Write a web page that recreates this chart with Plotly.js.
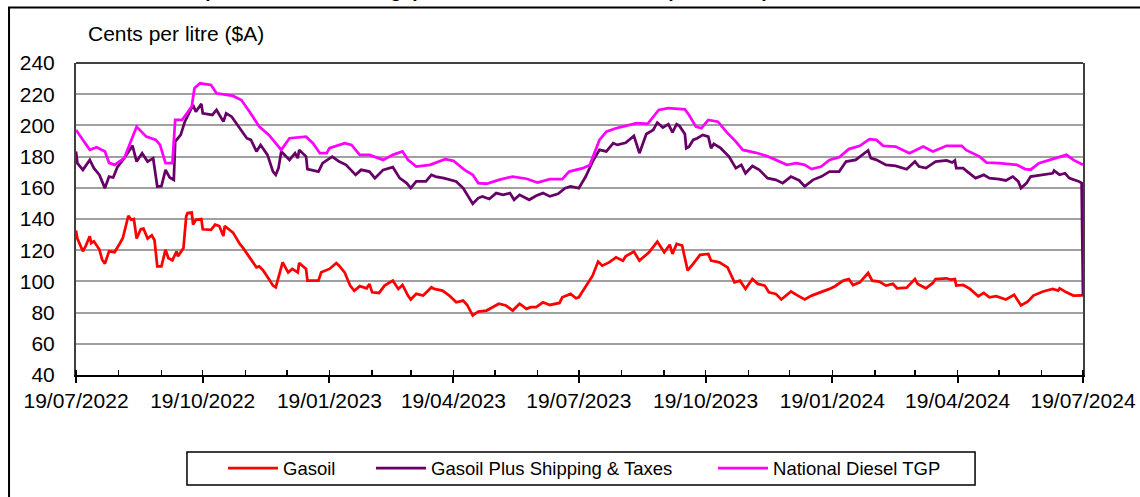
<!DOCTYPE html>
<html>
<head>
<meta charset="utf-8">
<script src="https://cdn.plot.ly/plotly-3.0.1.min.js"></script>
<style>
  html, body { margin: 0; padding: 0; background: #ffffff; }
  #chart { width: 1140px; height: 497px; }
</style>
</head>
<body>
<div id="chart"></div>
<script>
// ---------- DATA ----------
const seriesNames = ["Gasoil", "Gasoil Plus Shipping & Taxes", "National Diesel TGP"];

const tickDates = ["2022-07-19","2022-10-19","2023-01-19","2023-04-19","2023-07-19","2023-10-19","2024-01-19","2024-04-19","2024-07-19"];
const tickLabels = ["19/07/2022","19/10/2022","19/01/2023","19/04/2023","19/07/2023","19/10/2023","19/01/2024","19/04/2024","19/07/2024"];
const yTickValues = [40, 60, 80, 100, 120, 140, 160, 180, 200, 220, 240];

const gasoilDates = ["2022-07-19","2022-07-20","2022-07-24","2022-07-26","2022-07-29","2022-07-30","2022-08-01","2022-08-05","2022-08-07","2022-08-09","2022-08-12","2022-08-16","2022-08-20","2022-08-22","2022-08-26","2022-08-28","2022-08-30","2022-09-01","2022-09-04","2022-09-06","2022-09-09","2022-09-12","2022-09-14","2022-09-16","2022-09-19","2022-09-22","2022-09-24","2022-09-27","2022-09-30","2022-10-01","2022-10-05","2022-10-07","2022-10-08","2022-10-11","2022-10-12","2022-10-14","2022-10-18","2022-10-19","2022-10-25","2022-10-28","2022-10-31","2022-11-03","2022-11-04","2022-11-10","2022-11-15","2022-11-17","2022-11-22","2022-11-27","2022-11-29","2022-12-02","2022-12-06","2022-12-09","2022-12-11","2022-12-14","2022-12-16","2022-12-20","2022-12-23","2022-12-27","2022-12-28","2023-01-02","2023-01-03","2023-01-11","2023-01-13","2023-01-19","2023-01-24","2023-01-26","2023-01-30","2023-02-01","2023-02-03","2023-02-06","2023-02-10","2023-02-15","2023-02-17","2023-02-19","2023-02-24","2023-02-28","2023-03-06","2023-03-10","2023-03-13","2023-03-17","2023-03-19","2023-03-23","2023-03-28","2023-03-31","2023-04-03","2023-04-05","2023-04-11","2023-04-16","2023-04-21","2023-04-26","2023-04-29","2023-05-03","2023-05-07","2023-05-13","2023-05-18","2023-05-22","2023-05-27","2023-06-01","2023-06-06","2023-06-11","2023-06-14","2023-06-18","2023-06-23","2023-06-28","2023-07-05","2023-07-07","2023-07-13","2023-07-17","2023-07-19","2023-07-25","2023-07-29","2023-08-02","2023-08-05","2023-08-10","2023-08-15","2023-08-20","2023-08-22","2023-08-28","2023-09-01","2023-09-08","2023-09-14","2023-09-19","2023-09-23","2023-09-25","2023-09-28","2023-10-02","2023-10-06","2023-10-10","2023-10-15","2023-10-21","2023-10-23","2023-10-29","2023-11-04","2023-11-09","2023-11-13","2023-11-17","2023-11-22","2023-11-26","2023-12-01","2023-12-04","2023-12-09","2023-12-13","2023-12-20","2023-12-25","2023-12-30","2024-01-04","2024-01-11","2024-01-17","2024-01-21","2024-01-27","2024-01-31","2024-02-03","2024-02-08","2024-02-14","2024-02-17","2024-02-22","2024-02-27","2024-03-03","2024-03-06","2024-03-13","2024-03-19","2024-03-21","2024-03-27","2024-04-01","2024-04-03","2024-04-11","2024-04-14","2024-04-17","2024-04-18","2024-04-23","2024-04-28","2024-05-04","2024-05-08","2024-05-12","2024-05-17","2024-05-24","2024-05-30","2024-06-04","2024-06-09","2024-06-13","2024-06-20","2024-06-27","2024-07-01","2024-07-02","2024-07-07","2024-07-12","2024-07-19"];
const gasoilValues = [132.7,127.5,119.3,122.6,128.9,124.6,125.7,120.4,113.9,111.4,119.3,118.7,124.6,127.8,142.1,139.5,140,127.5,133.4,133.8,127.5,129.6,126.4,109.6,109.6,120.4,115,113.5,119.3,116.1,121.4,141.7,143.8,144.2,136.4,139.5,140,133.4,133,136.4,135.5,129.1,135.5,131.3,123.9,121.8,115.4,109,109.6,106.9,101.5,97.3,96.2,105.8,112.2,105.8,108,105.8,111.8,108,100.5,100.5,105.8,108,111.8,110.1,105.8,101.5,97.3,94,97,95.6,98.4,93,92.6,97.3,100.5,95.2,97.7,90.9,88.4,92,90.9,93.5,96.2,95.2,94.1,90.9,86.6,87.7,84.9,78.1,80.7,81.3,83.5,85.7,84.6,81.3,85.7,82.4,83.5,83.5,86.6,84.9,86.2,89.8,92,89.2,89.8,97.7,103.7,112.7,110.1,112.2,115.4,113.3,116.1,119.1,113.3,118.7,125.5,118.7,123.5,117.6,124,123,107,111.3,117,117.6,113.3,112.2,109,99.4,100.5,95.2,101.5,98.4,97.3,93,92,88.4,93.5,90.9,88.4,90.9,93,95.2,96.9,100.5,101.5,97.7,99.4,105.4,100.5,99.9,97.3,98.4,95.6,96,101.5,98.4,95.6,99,101.5,102,101.1,101.5,97.3,97.7,95.2,90.5,92.6,89.8,90.5,88.4,91.4,84.6,87.1,90.9,93.5,95.2,94.1,95.6,93,90.9,91];

const gasoilPlusDates = ["2022-07-19","2022-07-20","2022-07-24","2022-07-29","2022-08-01","2022-08-05","2022-08-09","2022-08-12","2022-08-15","2022-08-18","2022-08-23","2022-08-28","2022-08-29","2022-09-01","2022-09-05","2022-09-09","2022-09-13","2022-09-16","2022-09-19","2022-09-22","2022-09-25","2022-09-28","2022-09-29","2022-10-03","2022-10-06","2022-10-12","2022-10-14","2022-10-18","2022-10-19","2022-10-26","2022-10-29","2022-11-03","2022-11-05","2022-11-09","2022-11-15","2022-11-20","2022-11-23","2022-11-27","2022-11-30","2022-12-05","2022-12-09","2022-12-11","2022-12-13","2022-12-15","2022-12-21","2022-12-25","2022-12-27","2022-12-28","2023-01-02","2023-01-03","2023-01-11","2023-01-14","2023-01-21","2023-01-26","2023-01-31","2023-02-03","2023-02-07","2023-02-11","2023-02-17","2023-02-21","2023-02-27","2023-03-06","2023-03-11","2023-03-16","2023-03-19","2023-03-23","2023-03-30","2023-04-03","2023-04-06","2023-04-12","2023-04-21","2023-04-26","2023-04-29","2023-05-03","2023-05-07","2023-05-10","2023-05-15","2023-05-20","2023-05-25","2023-05-30","2023-06-02","2023-06-06","2023-06-13","2023-06-18","2023-06-23","2023-06-28","2023-07-04","2023-07-09","2023-07-13","2023-07-19","2023-07-24","2023-07-29","2023-08-03","2023-08-08","2023-08-13","2023-08-16","2023-08-22","2023-08-28","2023-09-01","2023-09-06","2023-09-11","2023-09-14","2023-09-18","2023-09-22","2023-09-25","2023-09-28","2023-09-30","2023-10-04","2023-10-05","2023-10-07","2023-10-10","2023-10-13","2023-10-17","2023-10-21","2023-10-23","2023-10-25","2023-10-30","2023-11-05","2023-11-10","2023-11-14","2023-11-17","2023-11-22","2023-11-27","2023-12-03","2023-12-09","2023-12-14","2023-12-20","2023-12-26","2023-12-30","2024-01-05","2024-01-11","2024-01-17","2024-01-24","2024-01-29","2024-02-05","2024-02-10","2024-02-14","2024-02-16","2024-02-20","2024-02-27","2024-03-05","2024-03-13","2024-03-19","2024-03-22","2024-03-27","2024-04-03","2024-04-11","2024-04-15","2024-04-17","2024-04-18","2024-04-23","2024-04-26","2024-05-02","2024-05-08","2024-05-12","2024-05-19","2024-05-24","2024-05-29","2024-06-02","2024-06-04","2024-06-08","2024-06-11","2024-06-20","2024-06-27","2024-06-28","2024-07-02","2024-07-06","2024-07-09","2024-07-16","2024-07-18","2024-07-19"];
const gasoilPlusValues = [183.3,175.8,171.5,177.9,172.6,168.3,159.8,167.2,166.6,173.2,179,186.4,187,176.8,182.2,176.8,179,160.8,161,171.5,166.6,165.1,189.6,193.9,202.4,213.1,208.8,213.8,207.8,206.7,209.9,202.4,207.8,205.6,198.2,191.8,190.7,183.3,187.5,181.1,170.4,168.3,172.6,183.3,177.9,182.2,179,184.3,180,172,170.4,175.8,180,176.8,174.7,172,168.3,171.5,170.4,166.2,171.5,173.2,166.2,163,159.8,164.1,164.1,168.3,167.2,166.2,164.1,159.8,155.5,149.8,153.4,154.5,152.8,156.6,155.5,156.6,152.3,155.5,152.3,154.9,156.6,154.5,156.2,159.8,160.9,159.8,167.2,176.8,184.3,183.3,188.6,187.5,188.9,193.3,182.2,194.5,197.1,201.8,198.6,200.8,195.5,200.8,199.7,194.5,185.4,186.4,190.7,191.8,193.9,192.8,185.4,188.2,185.4,180,172.6,174.7,169.3,174,171.5,166.2,165.1,163,167.2,164.7,160.9,165.1,167.2,170.4,170.4,176.8,177.9,181.1,183.9,179,177.9,174.7,174,171.9,176.8,173.6,172.6,176.8,177.5,176.2,177.5,172.6,172.6,170.4,166.2,168.3,166.2,165.6,164.7,167.2,164.1,159.8,163,167.2,168.3,169.3,171,168.3,169.3,166.2,164.1,163,91];

const tgpDates = ["2022-07-19","2022-07-29","2022-08-03","2022-08-09","2022-08-12","2022-08-16","2022-08-23","2022-09-01","2022-09-08","2022-09-15","2022-09-18","2022-09-22","2022-09-27","2022-09-29","2022-10-04","2022-10-11","2022-10-13","2022-10-17","2022-10-25","2022-10-29","2022-11-10","2022-11-16","2022-11-22","2022-11-29","2022-12-06","2022-12-15","2022-12-21","2023-01-02","2023-01-07","2023-01-12","2023-01-17","2023-01-19","2023-01-30","2023-02-04","2023-02-10","2023-02-17","2023-02-27","2023-03-06","2023-03-13","2023-03-17","2023-03-23","2023-04-02","2023-04-13","2023-04-19","2023-04-27","2023-05-03","2023-05-07","2023-05-13","2023-05-22","2023-06-01","2023-06-11","2023-06-19","2023-06-28","2023-07-07","2023-07-12","2023-07-22","2023-07-27","2023-08-03","2023-08-08","2023-08-15","2023-08-22","2023-08-30","2023-09-07","2023-09-15","2023-09-22","2023-10-04","2023-10-07","2023-10-12","2023-10-16","2023-10-21","2023-10-28","2023-11-03","2023-11-10","2023-11-15","2023-11-24","2023-12-02","2023-12-09","2023-12-17","2023-12-24","2023-12-30","2024-01-04","2024-01-11","2024-01-17","2024-01-24","2024-01-31","2024-02-08","2024-02-15","2024-02-20","2024-02-25","2024-03-05","2024-03-15","2024-03-25","2024-04-01","2024-04-11","2024-04-22","2024-04-25","2024-05-05","2024-05-10","2024-05-19","2024-06-01","2024-06-07","2024-06-11","2024-06-17","2024-06-27","2024-07-07","2024-07-12","2024-07-19"];
const tgpValues = [197.1,184.3,186,183.3,176,174.7,179,199.2,192.8,190.7,187.5,175.8,175.8,203.5,203.5,212,223.8,227,225.9,220.6,218.9,216.3,208.8,199.2,193.9,184.3,191.8,192.8,188.6,182.2,182.2,185.4,188.6,187.5,181.1,181.1,177.9,181.1,183.3,178,173.6,174.7,178.4,177.3,171.5,168.3,163,162.6,165.1,167.2,165.8,163.4,165.6,165.6,170.4,172.6,174.7,190.7,196,198.2,199.7,201.4,201,209.9,211,210.3,206.7,199.2,198.2,203.5,202.4,196,189.6,184.3,182.6,180.5,177.9,174.7,175.8,174.7,172,173.6,177.9,179.6,184.8,186.9,191.2,190.7,186.9,186.4,182.2,186.4,183.3,186.9,186.9,184.3,180,176.2,175.8,174.7,172,171.6,175.8,178.4,181.1,177.9,174.7];

const seriesColors = ["#FF0000", "#660066", "#FF00FF"];

// ---------- CHART ----------
const FONT = "Liberation Sans, Arial, Helvetica, sans-serif";

const traces = [
  { x: gasoilDates, y: gasoilValues, name: seriesNames[0], type: "scatter", mode: "lines",
    line: { color: seriesColors[0], width: 2.75 }, legendwidth: 83 },
  { x: gasoilPlusDates, y: gasoilPlusValues, name: seriesNames[1], type: "scatter", mode: "lines",
    line: { color: seriesColors[1], width: 2.75 }, legendwidth: 277 },
  { x: tgpDates, y: tgpValues, name: seriesNames[2], type: "scatter", mode: "lines",
    line: { color: seriesColors[2], width: 2.75 }, legendwidth: 190 }
];

const xRange = [tickDates[0], tickDates[tickDates.length - 1]];

const layout = {
  width: 1140, height: 497,
  margin: { l: 76, r: 57, t: 63, b: 122, autoexpand: false },
  paper_bgcolor: "#ffffff", plot_bgcolor: "#ffffff",
  font: { family: FONT, color: "#000000", size: 21 },
  showlegend: true,
  legend: {
    orientation: "h", x: 0.146, xanchor: "left", y: -0.2997, yanchor: "middle",
    itemwidth: 50,
    font: { family: FONT, size: 18.5, color: "#000000" },
    bgcolor: "rgba(0,0,0,0)", borderwidth: 0, traceorder: "normal"
  },
  xaxis: {
    type: "date", range: xRange,
    tickmode: "array", tickvals: tickDates, ticktext: tickLabels,
    ticks: "outside", ticklen: 6, tickwidth: 2, tickcolor: "#000000",
    showline: true, linecolor: "#000000", linewidth: 2, mirror: false,
    showgrid: false, zeroline: false,
    tickfont: { family: FONT, size: 21, color: "#000000" },
    minor: { ticks: "inside", ticklen: 5, tickwidth: 1.5, tickcolor: "#000000",
             dtick: "M1", tick0: tickDates[0], showgrid: false },
    fixedrange: true
  },
  xaxis2: {
    type: "date", range: xRange, overlaying: "x", anchor: "y", side: "bottom",
    tickmode: "array", tickvals: tickDates, showticklabels: false,
    ticks: "inside", ticklen: 6, tickwidth: 2, tickcolor: "#000000",
    showline: false, showgrid: false, zeroline: false, fixedrange: true
  },
  yaxis: {
    range: [40, 240], tickmode: "array", tickvals: yTickValues,
    ticks: "outside", ticklen: 15, tickcolor: "rgba(0,0,0,0)",
    showline: true, linecolor: "#404040", linewidth: 2, mirror: true,
    layer: "below traces",
    showgrid: false, zeroline: false,
    minor: { tickmode: "array", tickvals: yTickValues.slice(1, -1), showgrid: true,
             gridcolor: "#a0a0a0", gridwidth: 2, ticks: "" },
    tickfont: { family: FONT, size: 21, color: "#000000" },
    fixedrange: true
  },
  shapes: [
    // top border of plot area
    { type: "line", xref: "paper", yref: "paper", x0: 0, x1: 1, y0: 1, y1: 1,
      line: { color: "#404040", width: 2 }, layer: "below" },
    // outer chart frame
    { type: "rect", xref: "paper", yref: "paper", x0: -0.0665, x1: 1.10, y0: -0.50, y1: 1.178,
      line: { color: "#000000", width: 2 }, fillcolor: "rgba(0,0,0,0)", layer: "below" },
    // legend box
    { type: "rect", xref: "paper", yref: "paper", x0: 0.1102, x1: 0.8928, y0: -0.3526, y1: -0.2468,
      line: { color: "#000000", width: 1.5 }, fillcolor: "rgba(0,0,0,0)", layer: "below" }
  ],
  annotations: [
    { text: "Cents per litre ($A)", xref: "paper", yref: "paper", x: 0.0099, y: 1.096,
      xanchor: "left", yanchor: "middle", showarrow: false,
      font: { family: FONT, size: 21, color: "#000000" } },
    { text: "<b>Comparison between Singapore Gasoil and Diesel TGP (cents/litre)</b>", xref: "paper", yref: "paper",
      x: 0.0844, y: 1.193, xanchor: "left", yanchor: "bottom", showarrow: false,
      font: { family: FONT, size: 19, color: "#000000" } }
  ]
};

Plotly.newPlot("chart", traces, layout, { displayModeBar: false, staticPlot: true });
</script>
</body>
</html>
